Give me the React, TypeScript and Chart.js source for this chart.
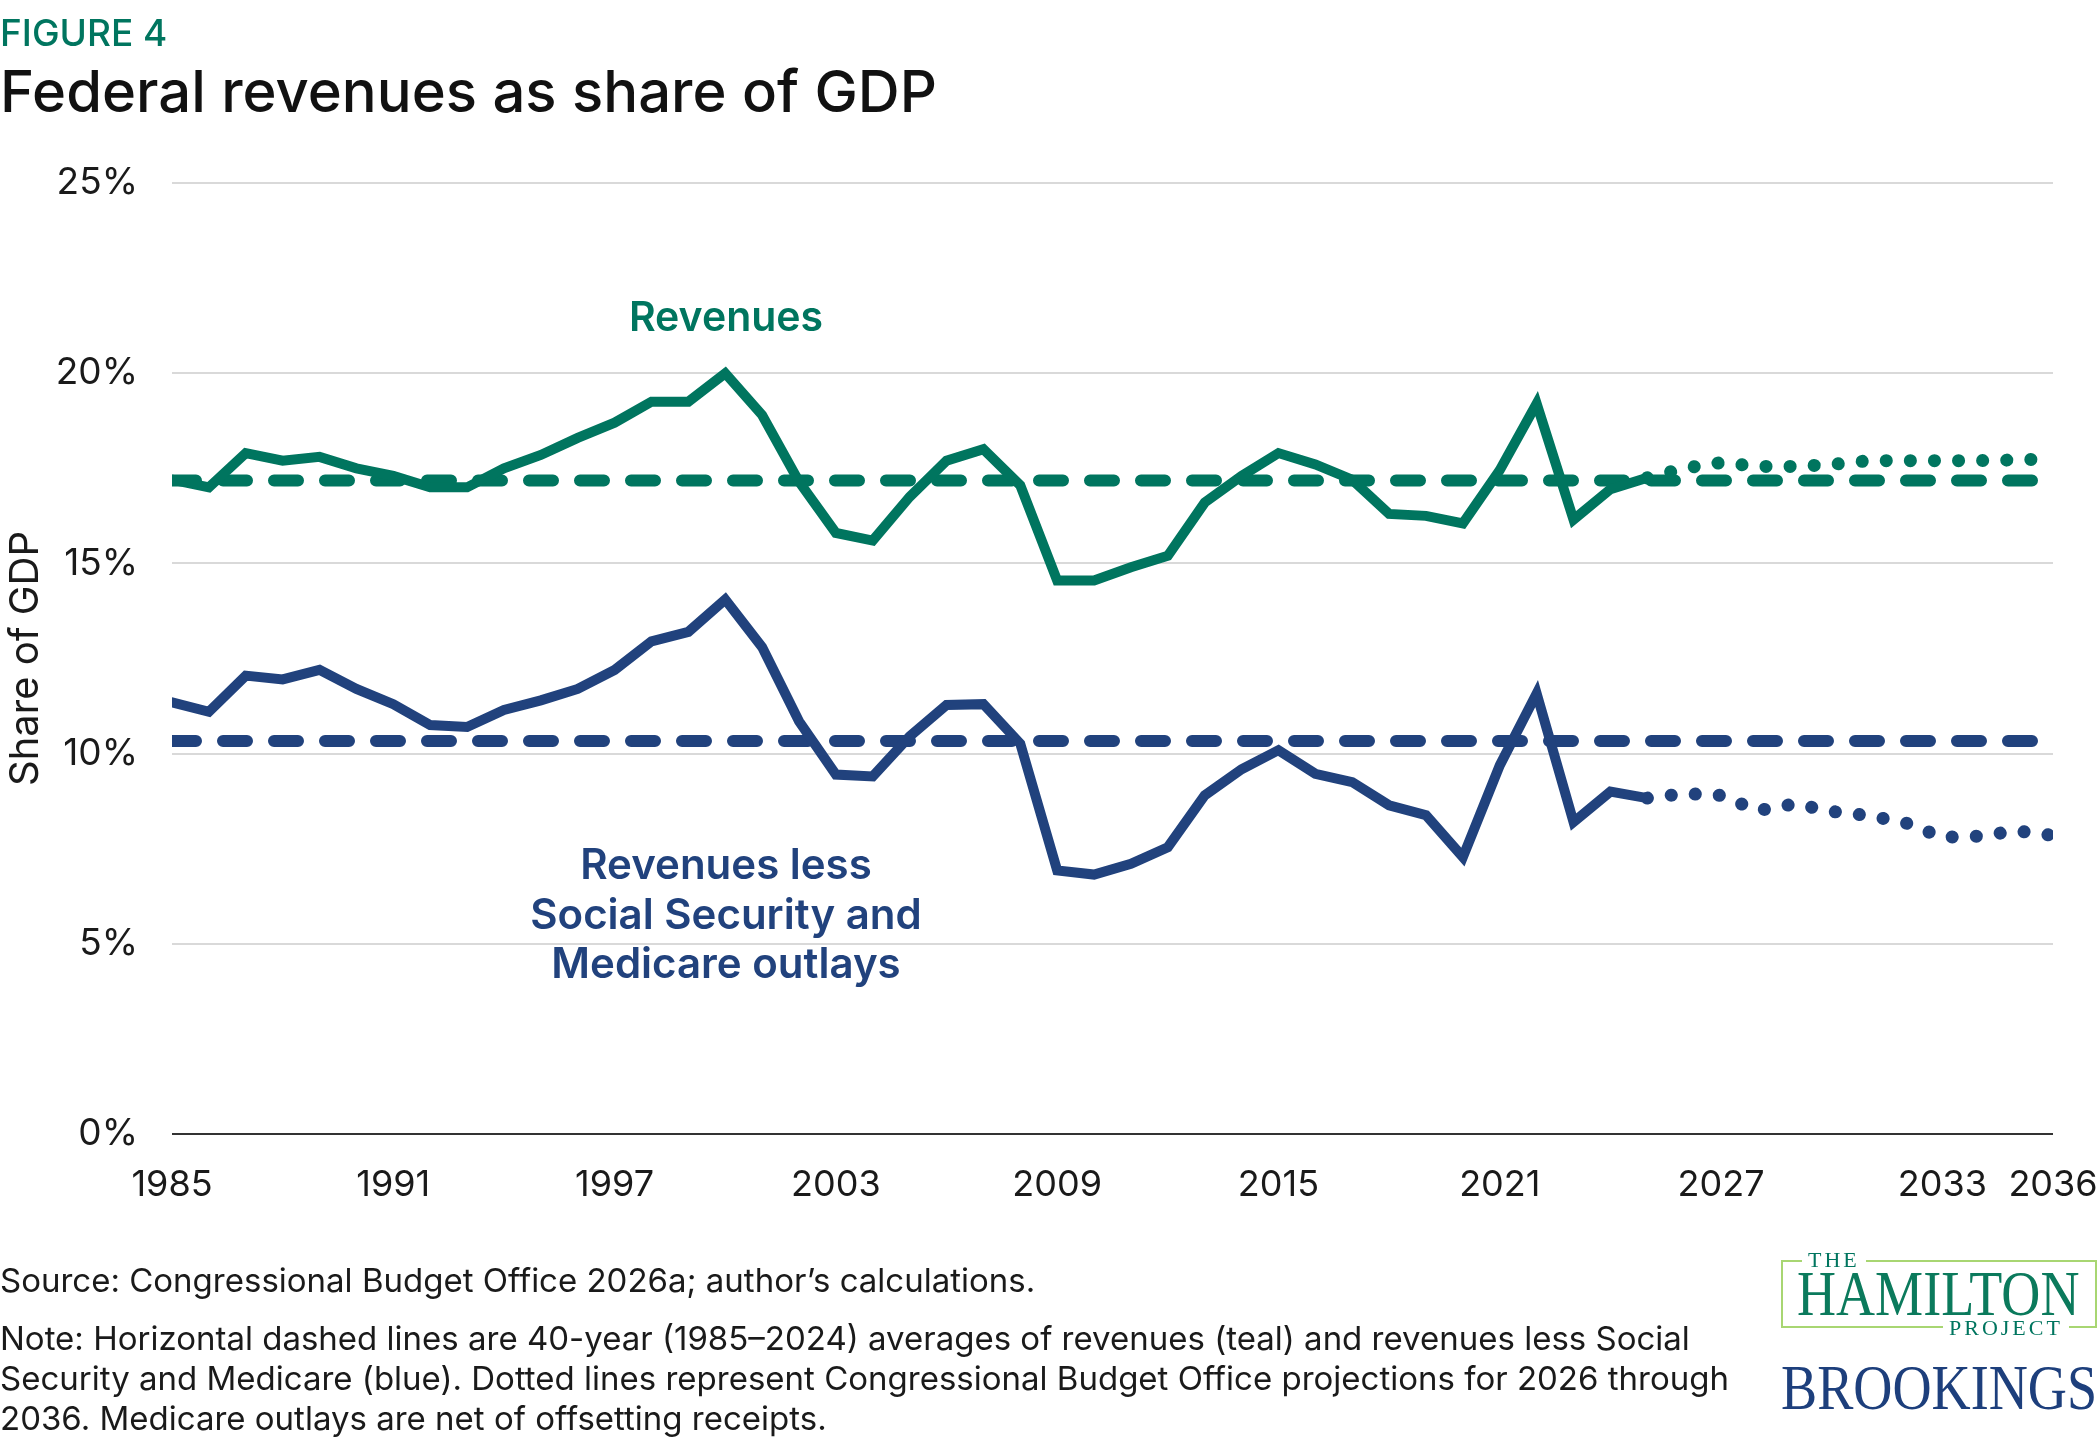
import React, { useEffect, useRef } from "react";
import { Chart, registerables } from "chart.js";

Chart.register(...registerables);

const TEAL = "#00755f";
const NAVY = "#21427d";
const INK = "#1a1a1a";
const SANS = "Inter, 'Noto Sans', sans-serif";
const SERIF = "'Liberation Serif', 'DejaVu Serif', serif";

// Historical years (solid lines) and CBO projection years (dotted lines)
const historyYears = [
  1985, 1986, 1987, 1988, 1989, 1990, 1991, 1992, 1993, 1994, 1995, 1996, 1997, 1998,
  1999, 2000, 2001, 2002, 2003, 2004, 2005, 2006, 2007, 2008, 2009, 2010, 2011, 2012,
  2013, 2014, 2015, 2016, 2017, 2018, 2019, 2020, 2021, 2022, 2023, 2024, 2025,
];
const projectionYears = [2025, 2026, 2027, 2028, 2029, 2030, 2031, 2032, 2033, 2034, 2035, 2036];

// Federal revenues, % of GDP
const revenues = [
  17.2, 17.0, 17.9, 17.7, 17.8, 17.5, 17.3, 17.0, 17.0, 17.5, 17.85, 18.3, 18.7, 19.25,
  19.25, 20.0, 18.9, 17.15, 15.8, 15.6, 16.75, 17.7, 18.0, 17.05, 14.55, 14.55, 14.9, 15.2,
  16.6, 17.3, 17.9, 17.6, 17.2, 16.3, 16.25, 16.05, 17.45, 19.2, 16.15, 16.95, 17.25,
];
const revenuesProjected = [17.25, 17.5, 17.65, 17.55, 17.55, 17.6, 17.7, 17.7, 17.7, 17.7, 17.72, 17.75];

// Revenues less Social Security and Medicare outlays, % of GDP
const revenuesLessSSM = [
  11.35, 11.1, 12.05, 11.95, 12.2, 11.7, 11.3, 10.75, 10.7, 11.15, 11.4, 11.7, 12.2, 12.95,
  13.2, 14.05, 12.8, 10.85, 9.45, 9.4, 10.45, 11.28, 11.3, 10.26, 6.93, 6.82, 7.1, 7.54,
  8.9, 9.59, 10.09, 9.47, 9.25, 8.64, 8.38, 7.28, 9.69, 11.58, 8.2, 9.0, 8.83,
];
const revenuesLessSSMProjected = [8.83, 8.95, 8.9, 8.5, 8.68, 8.48, 8.37, 8.18, 7.8, 7.83, 7.97, 7.85];

// 40-year (1985-2024) averages, drawn across the full span
const averageSpan = [1985, 2036];
const revenuesAverage = [17.18, 17.18];
const revenuesLessSSMAverage = [10.33, 10.33];

const xTickYears = [1985, 1991, 1997, 2003, 2009, 2015, 2021, 2027, 2033, 2036];
const yTickValues = [0, 5, 10, 15, 20, 25];

const toPoints = (xs: number[], ys: number[]) => xs.map((x, i) => ({ x, y: ys[i] }));

const W = 2100;
const H = 1449;

function RevenueChart() {
  const ref = useRef<HTMLCanvasElement | null>(null);

  useEffect(() => {
    if (!ref.current) return;
    const solid = { borderWidth: 10, pointRadius: 0, tension: 0, borderJoinStyle: "miter" as const, borderCapStyle: "round" as const };
    const dotted = { borderWidth: 13, pointRadius: 0, tension: 0, borderDash: [0.1, 24], borderCapStyle: "round" as const };
    const dashed = { borderWidth: 12, pointRadius: 0, tension: 0, borderDash: [24, 27], borderCapStyle: "round" as const };

    const chart = new Chart(ref.current, {
      type: "line",
      data: {
        datasets: [
          { label: "Revenues average", data: toPoints(averageSpan, revenuesAverage), borderColor: TEAL, ...dashed, order: 4 },
          { label: "Revenues less SS and Medicare average", data: toPoints(averageSpan, revenuesLessSSMAverage), borderColor: NAVY, ...dashed, order: 4 },
          { label: "Revenues projected", data: toPoints(projectionYears, revenuesProjected), borderColor: TEAL, ...dotted, order: 2 },
          { label: "Revenues less SS and Medicare projected", data: toPoints(projectionYears, revenuesLessSSMProjected), borderColor: NAVY, ...dotted, order: 2 },
          { label: "Revenues", data: toPoints(historyYears, revenues), borderColor: TEAL, ...solid, order: 1 },
          { label: "Revenues less Social Security and Medicare outlays", data: toPoints(historyYears, revenuesLessSSM), borderColor: NAVY, ...solid, order: 1 },
        ],
      },
      options: {
        responsive: false,
        animation: false,
        devicePixelRatio: 1,
        layout: { padding: { left: 0, right: 47, top: 183, bottom: 0 } },
        plugins: { legend: { display: false }, tooltip: { enabled: false } },
        scales: {
          x: {
            type: "linear",
            min: 1985,
            max: 2036,
            grid: { display: false, drawTicks: false },
            border: { display: false },
            afterBuildTicks: (s: any) => {
              s.ticks = xTickYears.map((v) => ({ value: v }));
            },
            afterFit: (s: any) => {
              s.height = H - 1134;
              s.paddingLeft = 0;
              s.paddingRight = 0;
            },
            ticks: {
              autoSkip: false,
              maxRotation: 0,
              padding: 30,
              color: INK,
              font: { family: SANS, size: 36 },
              callback: (v: any) => String(v),
            },
          },
          y: {
            min: 0,
            max: 25,
            afterBuildTicks: (s: any) => {
              s.ticks = yTickValues.map((v) => ({ value: v }));
            },
            afterFit: (s: any) => {
              s.width = 172;
              s.paddingTop = 0;
              s.paddingBottom = 0;
            },
            grid: {
              drawTicks: false,
              lineWidth: 2,
              color: (c: any) => (c.tick && c.tick.value === 0 ? "#333333" : "#d9d9d9"),
            },
            border: { display: false },
            ticks: {
              padding: 34,
              color: INK,
              font: { family: SANS, size: 37 },
              callback: (v: any) => `${v}%`,
            },
            title: {
              display: true,
              text: "Share of GDP",
              color: INK,
              font: { family: SANS, size: 40 },
              padding: { top: 2, bottom: 0 },
            },
          },
        },
      },
    });
    return () => chart.destroy();
  }, []);

  return <canvas ref={ref} width={W} height={H} style={{ position: "absolute", left: 0, top: 0, width: W, height: H }} />;
}

const abs = (extra: React.CSSProperties): React.CSSProperties => ({ position: "absolute", margin: 0, whiteSpace: "nowrap", lineHeight: 1, ...extra });

export default function App() {
  return (
    <div style={{ position: "absolute", left: 0, top: 0, width: W, height: H, overflow: "hidden", background: "#fff", fontFamily: SANS }}>
      <RevenueChart />

      <div style={abs({ left: 0, top: 14, fontSize: 37, fontWeight: 500, color: TEAL })}>FIGURE 4</div>
      <div style={abs({ left: 0, top: 62, fontSize: 58, fontWeight: 500, color: "#111" })}>Federal revenues as share of GDP</div>

      <div style={abs({ left: 526, width: 400, textAlign: "center", top: 296, fontSize: 41, fontWeight: 600, color: TEAL })}>Revenues</div>
      <div style={abs({ left: 426, width: 600, textAlign: "center", top: 839, fontSize: 42, fontWeight: 600, color: NAVY, lineHeight: "49.5px" })}>
        Revenues less
        <br />
        Social Security and
        <br />
        Medicare outlays
      </div>

      <div style={abs({ left: 0, top: 1264, fontSize: 33, color: INK })}>Source: Congressional Budget Office 2026a; author’s calculations.</div>
      <div style={abs({ left: 0, top: 1318, fontSize: 33, color: INK, lineHeight: "40px" })}>
        Note: Horizontal dashed lines are 40-year (1985–2024) averages of revenues (teal) and revenues less Social
        <br />
        Security and Medicare (blue). Dotted lines represent Congressional Budget Office projections for 2026 through
        <br />
        2036. Medicare outlays are net of offsetting receipts.
      </div>

      {/* The Hamilton Project mark */}
      <div style={{ position: "absolute", left: 1781, top: 1260, width: 316, height: 68, border: "2px solid #a8d672", boxSizing: "border-box" }} />
      <div style={abs({ left: 1802, top: 1249, fontSize: 22, letterSpacing: 3, color: TEAL, fontFamily: SERIF, background: "#fff", padding: "0 6px" })}>THE</div>
      <div style={abs({ left: 1797, top: 1262, fontSize: 64, color: "#0b7a5c", fontFamily: SERIF, transform: "scaleX(0.845)", transformOrigin: "left top" })}>HAMILTON</div>
      <div style={abs({ left: 1943, top: 1317, fontSize: 22, letterSpacing: 3, color: TEAL, fontFamily: SERIF, background: "#fff", padding: "0 6px" })}>PROJECT</div>
      <div style={abs({ left: 1781, top: 1357, fontSize: 63, color: "#1d3f7c", fontFamily: SERIF, transform: "scaleX(0.86)", transformOrigin: "left top" })}>BROOKINGS</div>
    </div>
  );
}
